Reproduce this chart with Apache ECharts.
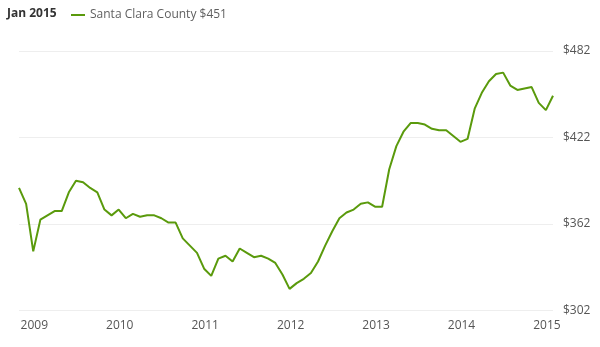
<!DOCTYPE html>
<html>
<head>
<meta charset="utf-8">
<script src="https://cdn.jsdelivr.net/npm/echarts@6/dist/echarts.min.js"></script>
<style>html,body{margin:0;padding:0;background:#fff;}#c{width:600px;height:347px;}</style>
</head>
<body>
<div id="c"></div>
<script>
// Monthly data, Oct 2008 .. Jan 2015 (month-end values)
const startYear = 2008;
const startMonth = 10; // October
const seriesName = 'Santa Clara County';
const values = [
  387, 376, 343,
  365, 368, 371, 371, 384, 392, 391, 387, 384, 372, 368, 372,
  366, 369, 367, 368, 368, 366, 363, 363, 352, 347, 342, 331,
  326, 338, 340, 336, 345, 342, 339, 340, 338, 335, 327, 317,
  321, 324, 328, 336, 347, 357, 366, 370, 372, 376, 377, 374,
  374, 400, 416, 426, 432, 432, 431, 428, 427, 427, 423, 419,
  421, 442, 453, 461, 466, 467, 458, 455, 456, 457, 446, 441,
  451
];
const yearTicks = [2009, 2010, 2011, 2012, 2013, 2014, 2015];
const priceTicks = [302, 362, 422, 482];
const titleText = 'Jan 2015';

// build month positions (fractional years, near month end)
const points = values.map((v, i) => {
  const m = startMonth - 1 + i;
  const y = startYear + Math.floor(m / 12);
  const mon = (m % 12) + 1;
  return [y + (mon - 0.15) / 12, v];
});

const chart = echarts.init(document.getElementById('c'), null, {renderer: 'canvas'});
const font = '"Open Sans", sans-serif';
chart.setOption({
  animation: false,
  title: {
    text: titleText, left: 2, top: 3,
    textStyle: {fontFamily: font, fontSize: 12, fontWeight: 'bold', color: '#333'}
  },
  legend: {
    left: 66, top: 4,
    icon: 'rect', itemWidth: 14, itemHeight: 2, itemGap: 6,
    formatter: name => name + ' $' + values[values.length - 1],
    textStyle: {fontFamily: font, fontSize: 12, color: '#5f5f5f'}
  },
  grid: {left: 19, right: 47, top: 51, bottom: 36.5},
  xAxis: {
    type: 'value',
    min: points[0][0], max: points[points.length - 1][0],
    axisLine: {show: false}, axisTick: {show: false},
    splitLine: {show: false},
    axisLabel: {
      customValues: yearTicks, margin: 9,
      fontFamily: font, fontSize: 12, color: '#555',
      formatter: v => String(Math.round(v))
    }
  },
  yAxis: {
    type: 'value', position: 'right',
    min: priceTicks[0], max: priceTicks[priceTicks.length - 1],
    axisLine: {show: false},
    axisTick: {show: false, customValues: priceTicks},
    splitLine: {show: true, lineStyle: {color: '#eeeeee', width: 1}},
    axisLabel: {
      customValues: priceTicks, margin: 10,
      fontFamily: font, fontSize: 12, color: '#555',
      formatter: v => '$' + v
    }
  },
  series: [{
    name: seriesName, type: 'line', data: points,
    showSymbol: false, symbol: 'none',
    lineStyle: {color: '#5a9a0c', width: 2},
    itemStyle: {color: '#5a9a0c'}
  }]
});
</script>
</body>
</html>
